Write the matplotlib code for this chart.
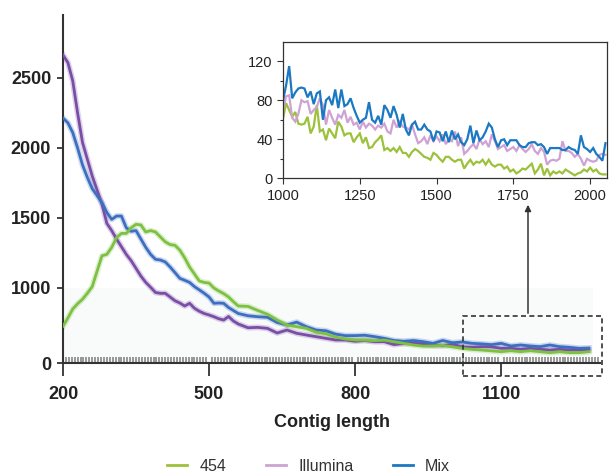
import numpy as np
import matplotlib
matplotlib.use("Agg")
import matplotlib.pyplot as plt
from matplotlib.patches import Rectangle, FancyArrowPatch
from matplotlib.lines import Line2D

plt.rcParams['font.family'] = ['Liberation Sans', 'DejaVu Sans']

# ---------------- data: main chart ----------------
main_x = list(range(200, 561, 10)) + list(range(580, 1281, 20))

illumina_main = [2664, 2610, 2480, 2250, 2040, 1920, 1800, 1700, 1600, 1462,
                 1410, 1350, 1295, 1240, 1195, 1140, 1085, 1040, 1005, 940,
                 929, 929, 880, 830, 800, 760, 796, 730, 690, 660,
                 640, 617, 590, 573, 620, 560, 520,
                 470, 475, 462, 400, 440, 396, 373, 351, 329, 307,
                 307, 290, 300, 284, 284, 245, 260, 265, 255, 235,
                 230, 250, 215, 209, 218, 215, 196, 196, 182, 196,
                 182, 173, 182, 173, 173, 173]

mix_main = [2214, 2180, 2110, 2000, 1880, 1790, 1710, 1660, 1610, 1540,
            1490, 1514, 1514, 1430, 1405, 1410, 1350, 1290, 1240, 1205,
            1200, 1186, 1150, 1110, 1069, 1055, 1040, 1010, 975, 930,
            880, 796, 800, 796, 740, 700, 660,
            630, 617, 609, 540, 507, 545, 484, 440, 430, 385,
            365, 365, 370, 351, 329, 300, 290, 300, 284, 262,
            300, 270, 280, 262, 255, 245, 262, 227, 240, 227,
            218, 240, 218, 209, 196, 200]

s454_main = [490, 600, 720, 790, 850, 930, 1010, 1120, 1230, 1240,
             1290, 1360, 1390, 1390, 1430, 1455, 1450, 1400, 1410, 1400,
             1365, 1330, 1310, 1305, 1270, 1215, 1150, 1100, 1050, 1040,
             1035, 1000, 960, 925, 880, 817, 760,
             755, 700, 650, 573, 505, 484, 462, 410, 390, 345,
             320, 307, 305, 298, 305, 284, 262, 240, 225, 227,
             235, 215, 196, 182, 173, 162, 151, 164, 151, 164,
             151, 138, 151, 138, 138, 151]

main_yticks = [0, 1000, 1500, 2000, 2500]
main_xticks = [200, 500, 800, 1100]

# ---------------- data: inset ----------------
inset_x = list(range(1000, 2051, 10))

s454_inset = [61, 77, 70, 63, 68, 56, 55, 56, 63, 46, 53, 75, 48, 50, 39, 51, 46, 41, 58, 53,
              44, 46, 46, 37, 42, 46, 36, 42, 31, 32, 37, 40, 44, 29, 31, 28, 31, 27, 32, 26,
              26, 22, 27, 30, 28, 25, 22, 21, 19, 26, 24, 20, 17, 22, 22, 19, 17, 19, 19, 10,
              15, 19, 14, 17, 16, 19, 14, 19, 14, 12, 14, 14, 10, 12, 7, 9, 5, 7, 10, 9,
              12, 15, 5, 9, 15, 3, 10, 3, 7, 5, 7, 5, 9, 7, 5, 3, 5, 6, 9, 7,
              11, 7, 9, 5, 4, 4]

illumina_inset = [70, 84, 85, 62, 58, 66, 80, 78, 79, 66, 70, 73, 82, 75, 55, 70, 62, 55, 65, 62,
                  70, 57, 63, 55, 57, 50, 58, 52, 56, 54, 50, 54, 52, 56, 48, 46, 60, 52, 58, 53,
                  52, 50, 55, 45, 36, 38, 42, 35, 44, 38, 43, 38, 45, 35, 40, 38, 48, 33, 42, 25,
                  28, 32, 35, 30, 40, 35, 38, 32, 45, 38, 30, 32, 34, 28, 30, 32, 28, 34, 30, 27,
                  30, 35, 28, 25, 31, 27, 14, 18, 19, 18, 20, 38, 28, 28, 26, 22, 25, 20, 13, 20,
                  18, 17, 18, 24, 25, 24]

mix_inset = [80, 95, 115, 82, 88, 92, 93, 92, 83, 89, 76, 87, 89, 60, 80, 83, 75, 91, 72, 91,
             74, 76, 82, 72, 64, 57, 60, 62, 78, 60, 57, 64, 55, 75, 70, 62, 74, 65, 52, 66,
             50, 44, 55, 58, 50, 50, 55, 50, 48, 38, 48,
             47, 38, 48, 37, 49, 40, 45, 37, 34, 40, 54, 36, 49, 39, 42, 48, 56, 52, 40, 32,
             39, 40, 34, 39, 39, 39, 34, 32, 32, 36, 37, 37, 34, 35, 32, 25, 31, 31, 31, 31,
             29, 29, 32, 30, 29, 25, 44, 32, 30, 27, 31, 25, 22, 18, 36]

inset_xticks = [1000, 1250, 1500, 1750, 2000]
inset_yticks = [0, 40, 80, 120]

# colours
main_colors = {'454': '#7cc142', 'Illumina': '#7a4ea6', 'Mix': '#3d6fc0'}
inset_colors = {'454': '#9cc13b', 'Illumina': '#cfa2d4', 'Mix': '#1b79c3'}

W, H = 609, 474
fig = plt.figure(figsize=(W / 100, H / 100), dpi=100)

# ---------------- main axes ----------------
ax = fig.add_axes([63 / W, (H - 363) / H, (600 - 63) / W, (363 - 15) / H])

LOW = 0.075 / 0.14  # compression of 0-1000 region


def fwd(v):
    v = np.asarray(v, dtype=float)
    return np.where(v <= 1000, v * LOW, 1000 * LOW + (v - 1000))


def inv(u):
    u = np.asarray(u, dtype=float)
    return np.where(u <= 1000 * LOW, u / LOW, u - 1000 * LOW + 1000)


ax.set_yscale('function', functions=(fwd, inv))
ax.set_xlim(200, 1303)
ax.set_ylim(0, 2950)

ax.add_patch(Rectangle((200, 0), 1088, 1000, facecolor='#f9fbfb', edgecolor='none', zorder=0))

for name, ys in [('Illumina', illumina_main), ('Mix', mix_main), ('454', s454_main)]:
    c = main_colors[name]
    ax.plot(main_x, ys, color=c, lw=4.2, alpha=0.25, solid_joinstyle='round', zorder=2)
    ax.plot(main_x, ys, color=c, lw=2.0, solid_joinstyle='round', zorder=3)

for s in ['top', 'right']:
    ax.spines[s].set_visible(False)
for s in ['left', 'bottom']:
    ax.spines[s].set_color('#333333')
    ax.spines[s].set_linewidth(1.5)

ax.set_yticks(main_yticks)
ax.set_yticklabels([str(t) for t in main_yticks], fontweight='bold', fontsize=13, color='#222222')
ax.set_xticks(main_xticks)
ax.set_xticklabels([str(t) for t in main_xticks], fontweight='bold', fontsize=13, color='#222222')
ax.tick_params(axis='y', direction='out', length=4.5, width=1.3, color='#333333', pad=4)
ax.tick_params(axis='x', which='major', direction='out', length=9.5, width=1.3, color='#333333', pad=7)
ax.set_xticks(np.arange(200, 1300, 6), minor=True)
ax.tick_params(axis='x', which='minor', direction='in', length=4.5, width=1.1, color='#7c7c7c')
ax.yaxis.set_minor_locator(matplotlib.ticker.NullLocator())

ax.set_xlabel('Contig length', fontsize=13, fontweight='bold', color='#222222', labelpad=8)

# dashed box and arrow (figure pixel coordinates)
def fx(px):
    return px / W


def fy(py):
    return (H - py) / H


box = Rectangle((fx(463), fy(376)), fx(602) - fx(463), fy(316) - fy(376), transform=fig.transFigure,
                fill=False, edgecolor='#333333', lw=1.2, ls=(0, (3, 2)), clip_on=False)
fig.patches.append(box)
arr = FancyArrowPatch((fx(528), fy(316)), (fx(528), fy(202)), transform=fig.transFigure,
                      arrowstyle='-|>', mutation_scale=9, color='#333333', lw=1.1)
fig.patches.append(arr)

# ---------------- inset ----------------
ai = fig.add_axes([283 / W, (H - 178.3) / H, (606.7 - 283) / W, (178.3 - 41.7) / H])
ai.set_xlim(1000, 2054)
ai.set_ylim(0, 140)
for name, ys in [('454', s454_inset), ('Illumina', illumina_inset), ('Mix', mix_inset)]:
    ai.plot(inset_x, ys, color=inset_colors[name], lw=1.6, solid_joinstyle='miter')
ai.set_xticks(inset_xticks)
ai.set_yticks(inset_yticks)
ai.set_yticks([20, 60, 100], minor=True)
ai.tick_params(axis='both', which='major', labelsize=10.5, labelcolor='#222222', length=4, width=0.8, color='#333333')
ai.tick_params(axis='y', which='minor', length=2.5, width=0.8, color='#333333')
for s in ai.spines.values():
    s.set_color('#333333')
    s.set_linewidth(0.9)

# ---------------- legend ----------------
handles = [Line2D([], [], color=inset_colors[n], lw=2) for n in ['454', 'Illumina', 'Mix']]
leg = fig.legend(handles, ['454', 'Illumina', 'Mix'], loc='lower center', ncol=3, frameon=False,
                 bbox_to_anchor=(0.507, -0.03), fontsize=11.5, handlelength=1.25, columnspacing=2.5,
                 handletextpad=0.75)
for t in leg.get_texts():
    t.set_color('#333333')

fig.savefig('out.png', dpi=100)
